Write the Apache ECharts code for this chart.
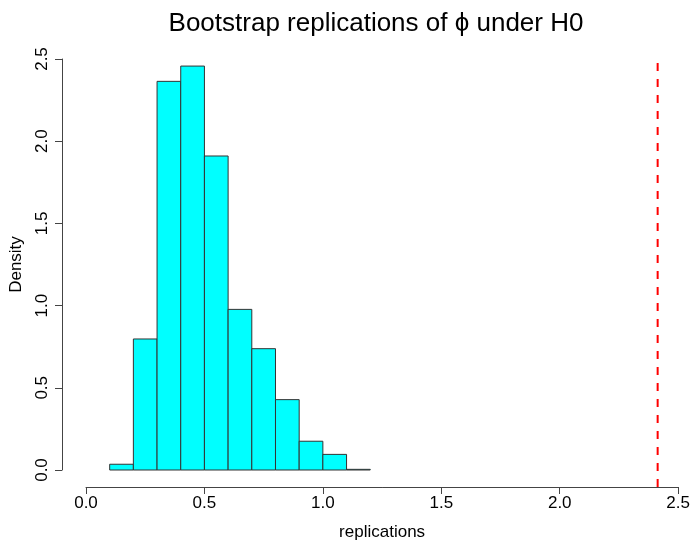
<!DOCTYPE html>
<html>
<head>
<meta charset="utf-8">
<script src="https://cdn.jsdelivr.net/npm/echarts@6/dist/echarts.min.js"></script>
<style>
  html, body { margin: 0; padding: 0; background: #fff; }
  #main { width: 693px; height: 547px; }
</style>
</head>
<body>
<div id="main"></div>
<script>
var myChart = echarts.init(document.getElementById('main'));

// histogram bins (width 0.1) and their densities
var binStarts = [0.1, 0.2, 0.3, 0.4, 0.5, 0.6, 0.7, 0.8, 0.9, 1.0, 1.1];
var binWidth = 0.1;
var densities = [0.035, 0.797, 2.364, 2.457, 1.910, 0.977, 0.738, 0.428, 0.175, 0.095, 0.004];
var observed = 2.41; // red dashed line

var histData = [];
for (var i = 0; i < binStarts.length; i++) {
    histData.push([binStarts[i], binStarts[i] + binWidth, densities[i]]);
}

var fontFam = 'Liberation Sans, Arial, sans-serif';

var option = {
    backgroundColor: '#ffffff',
    animation: false,
    title: {
        text: 'Bootstrap replications of ϕ under H0',
        left: 371,
        top: 6,
        textAlign: 'center',
        textStyle: {
            fontSize: 26,
            fontWeight: 'normal',
            color: '#000',
            fontFamily: fontFam
        }
    },
    grid: [
        { left: 86, right: 14, top: 59, bottom: 77 },
        { left: 86, right: 14, top: 58, bottom: 60 }
    ],
    xAxis: [{
        gridIndex: 0,
        type: 'value',
        min: 0,
        max: 2.5,
        interval: 0.5,
        offset: 17,
        name: 'replications',
        nameLocation: 'middle',
        nameGap: 37,
        nameTextStyle: { fontSize: 17, color: '#000', fontFamily: fontFam },
        axisLine: { show: true, onZero: false, lineStyle: { color: '#444', width: 1 } },
        axisTick: { show: true, length: 7, lineStyle: { color: '#444' } },
        axisLabel: {
            fontSize: 17, color: '#000', fontFamily: fontFam, margin: 8,
            formatter: function (v) { return v.toFixed(1); }
        },
        splitLine: { show: false }
    }, {
        gridIndex: 1,
        type: 'value',
        min: 0,
        max: 2.5,
        show: false
    }],
    yAxis: [{
        gridIndex: 0,
        type: 'value',
        min: 0,
        max: 2.5,
        interval: 0.5,
        offset: 24,
        name: 'Density',
        nameLocation: 'middle',
        nameGap: 37,
        nameTextStyle: { fontSize: 17, color: '#000', fontFamily: fontFam },
        axisLine: { show: true, onZero: false, lineStyle: { color: '#444', width: 1 } },
        axisTick: { show: true, length: 7, lineStyle: { color: '#444' } },
        axisLabel: {
            fontSize: 17, color: '#000', fontFamily: fontFam, margin: 11, rotate: 90,
            formatter: function (v) { return v.toFixed(1); }
        },
        splitLine: { show: false }
    }, {
        gridIndex: 1,
        type: 'value',
        min: 0,
        max: 1,
        show: false
    }],
    series: [{
        type: 'custom',
        xAxisIndex: 0,
        yAxisIndex: 0,
        renderItem: function (params, api) {
            var p0 = api.coord([api.value(0), 0]);
            var p1 = api.coord([api.value(1), api.value(2)]);
            return {
                type: 'rect',
                shape: { x: p0[0], y: p1[1], width: p1[0] - p0[0], height: p0[1] - p1[1] },
                style: { fill: '#00FFFF', stroke: '#333', lineWidth: 1 }
            };
        },
        encode: { x: [0, 1], y: 2 },
        data: histData
    }, {
        type: 'line',
        xAxisIndex: 1,
        yAxisIndex: 1,
        symbol: 'none',
        lineStyle: { color: '#FF0000', width: 2, type: [8, 8] },
        data: [[observed, 0], [observed, 1]]
    }]
};
myChart.setOption(option);
</script>
</body>
</html>
